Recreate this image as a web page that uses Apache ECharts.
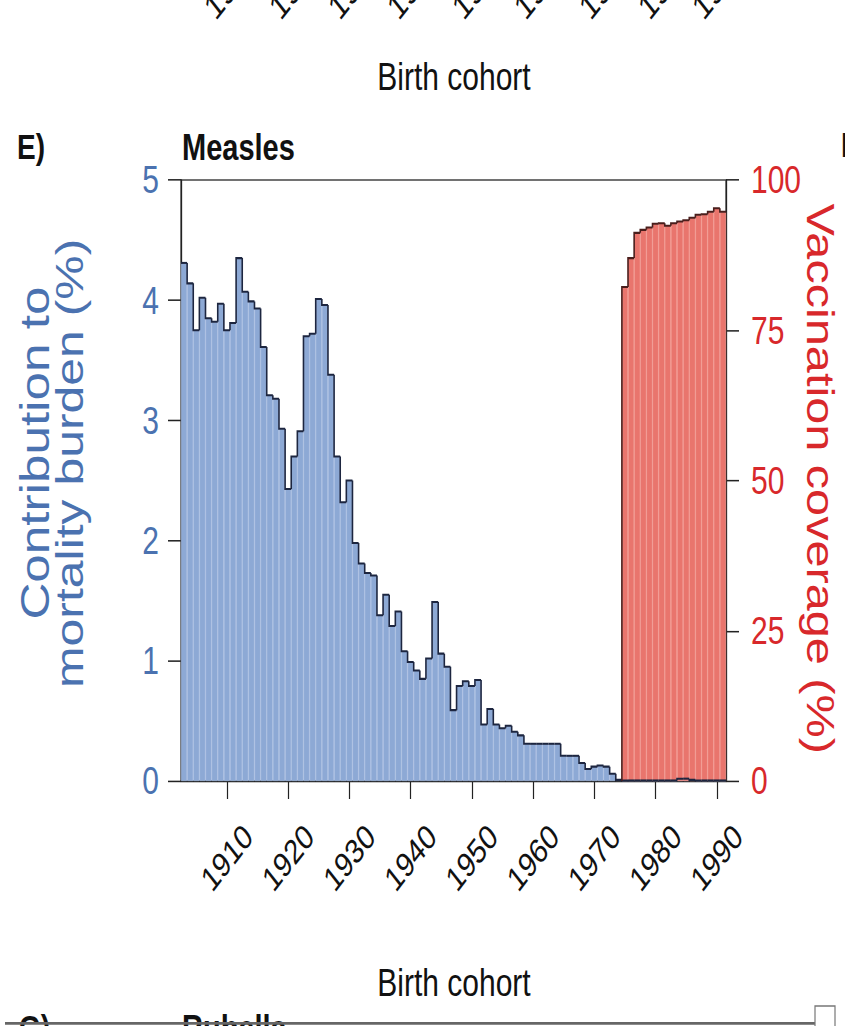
<!DOCTYPE html>
<html><head><meta charset="utf-8">
<script src="https://cdn.jsdelivr.net/npm/echarts@6/dist/echarts.min.js"></script>
<style>
html,body{margin:0;padding:0;background:#fff;overflow:hidden;width:845px;height:1026px;}
#wrap{width:845px;height:801.6px;transform:scaleY(1.28);transform-origin:0 0;}
#chart{width:845px;height:801.6px;}
</style></head><body><div id="wrap"><div id="chart"></div></div>
<script>
// ---- data ----
const years = ['1903','1904','1905','1906','1907','1908','1909','1910','1911','1912','1913','1914','1915','1916','1917','1918','1919','1920','1921','1922','1923','1924','1925','1926','1927','1928','1929','1930','1931','1932','1933','1934','1935','1936','1937','1938','1939','1940','1941','1942','1943','1944','1945','1946','1947','1948','1949','1950','1951','1952','1953','1954','1955','1956','1957','1958','1959','1960','1961','1962','1963','1964','1965','1966','1967','1968','1969','1970','1971','1972','1973','1974','1975','1976','1977','1978','1979','1980','1981','1982','1983','1984','1985','1986','1987','1988','1989','1990','1991'];
const mortality = [4.31,4.14,3.75,4.02,3.85,3.82,3.97,3.75,3.81,4.35,4.07,3.99,3.93,3.61,3.21,3.18,2.93,2.43,2.70,2.91,3.70,3.72,4.01,3.96,3.38,2.70,2.32,2.50,1.98,1.81,1.73,1.71,1.38,1.55,1.29,1.41,1.08,0.99,0.92,0.85,1.02,1.49,1.06,0.95,0.59,0.79,0.83,0.79,0.84,0.47,0.60,0.47,0.44,0.46,0.41,0.38,0.31,0.31,0.31,0.31,0.31,0.31,0.21,0.21,0.21,0.15,0.10,0.12,0.13,0.12,0.06,0.01,0.005,0.005,0.005,0.005,0.005,0.005,0.005,0.005,0.005,0.02,0.02,0.01,0.005,0.005,0.005,0.005,0.005];
const coverageYears = ['1975','1976','1977','1978','1979','1980','1981','1982','1983','1984','1985','1986','1987','1988','1989','1990','1991'];
const coverage = [82.2,87.0,91.2,91.7,92.1,92.7,92.8,92.4,92.8,93.1,93.3,93.7,94.2,94.3,94.7,95.3,94.7];
const xTickLabels = ['1910','1920','1930','1940','1950','1960','1970','1980','1990'];
const leftTicks = [0,1,2,3,4,5];
const rightTicks = [0,25,50,75,100];
const prevPanelLabels = ['1910','1920','1930','1940','1950','1960','1970','1980','1990'];
const prevPanelLabelX = [213,278,337,396,461,523,588,647,701];

// ---- styles ----
const FONT = '"Liberation Sans", Arial, Helvetica, sans-serif';
const BLUE_TXT = '#4B72B0', RED_TXT = '#D8282B';
const BLUE_FILL = '#8DA9D5', RED_FILL = '#E9756D';

const coverageFull = years.map(y => { const k = coverageYears.indexOf(y); return k >= 0 ? coverage[k] : null; });
const blueOutline = mortality.map((v, i) => [i, v, i > 0 ? mortality[i - 1] : v]);
const redOutline = [];
coverageFull.forEach((v, i) => { if (v != null) { const p = coverageFull[i - 1]; redOutline.push([i, v, p == null ? 0 : p]); } });

function outlineRender(color, width) {
  return function (params, api) {
    const x = api.value(0), y = api.value(1), yp = api.value(2);
    const p = api.coord([x, y]), pp = api.coord([x, yp]);
    const w = api.size([1, 0])[0];
    const l = p[0] - w / 2, r = p[0] + w / 2;
    return { type: 'polyline', shape: { points: [[l, pp[1]], [l, p[1]], [r, p[1]]] },
      style: { stroke: color, lineWidth: width, fill: null } };
  };
}
const isTick = (i, v) => xTickLabels.indexOf(String(v)) >= 0;

function txt(text, x, y, o) {
  o = o || {};
  return { type: 'text', x: x, y: y, rotation: o.rot || 0, z: 100,
    style: { text: text, fill: o.color || '#111', fontSize: o.size || 30, fontFamily: FONT,
      fontWeight: o.weight || 'normal', align: o.align || 'center', verticalAlign: o.va || 'middle',
      textAlign: o.align || 'center', textVerticalAlign: o.va || 'middle' } };
}

const graphics = [
  txt('Birth cohort', 454, 60),
  txt('E)', 17, 115, { weight: 'bold', size: 28, align: 'left' }),
  txt('Measles', 182, 115, { weight: 'bold', size: 29, align: 'left' }),
  txt('F)', 841, 113, { weight: 'bold', size: 28, align: 'left' }),
  txt('Contribution to', 35, 354, { rot: Math.PI / 2, size: 40, color: BLUE_TXT }),
  txt('mortality burden (%)', 69, 362, { rot: Math.PI / 2, size: 39, color: BLUE_TXT }),
  txt('Vaccination coverage (%)', 820, 374, { rot: -Math.PI / 2, size: 38, color: RED_TXT }),
  txt('Birth cohort', 454, 768),
  txt('G)', 19, 789, { weight: 'bold', size: 28, align: 'left', va: 'top' }),
  txt('Rubella', 182, 789, { weight: 'bold', size: 29, align: 'left', va: 'top' }),
  { type: 'line', z: 100, shape: { x1: 5, y1: 799.5, x2: 815, y2: 799.5 }, style: { stroke: '#666', lineWidth: 2 } },
  { type: 'rect', z: 100, shape: { x: 815, y: 786, width: 20, height: 18 }, style: { stroke: '#777', fill: '#fff', lineWidth: 1.2 } }
];
prevPanelLabels.forEach((t, i) => graphics.push(txt(t, prevPanelLabelX[i] + 40, -34, { rot: Math.PI / 4, size: 28, align: 'right' })));

const chart = echarts.init(document.getElementById('chart'), null, { renderer: 'svg' });
chart.setOption({
  animation: false,
  backgroundColor: '#fff',
  textStyle: { fontFamily: FONT },
  grid: { left: 181, right: 119, top: 140.6, height: 469.6, show: true, borderColor: '#444', borderWidth: 1.3, backgroundColor: 'transparent' },
  xAxis: {
    type: 'category', data: years, boundaryGap: true,
    axisLine: { show: true, lineStyle: { color: '#222', width: 1.3 } },
    axisTick: { show: true, alignWithLabel: true, interval: isTick, length: 14, lineStyle: { color: '#222', width: 1.2 } },
    axisLabel: { interval: isTick, rotate: 45, fontSize: 27, color: '#111', margin: 60,
      align: 'center', verticalAlign: 'middle', fontFamily: FONT },
    splitLine: { show: false }
  },
  yAxis: [
    { type: 'value', min: leftTicks[0], max: leftTicks[leftTicks.length - 1], interval: 1, position: 'left',
      axisLine: { show: true, lineStyle: { color: '#222', width: 1.3 } },
      axisTick: { show: true, length: 13, lineStyle: { color: '#222', width: 1.2 } },
      axisLabel: { color: BLUE_TXT, fontSize: 30, margin: 22, fontFamily: FONT },
      splitLine: { show: false } },
    { type: 'value', min: rightTicks[0], max: rightTicks[rightTicks.length - 1], interval: 25, position: 'right',
      axisLine: { show: true, lineStyle: { color: '#222', width: 1.3 } },
      axisTick: { show: true, length: 13, lineStyle: { color: '#222', width: 1.2 } },
      axisLabel: { color: RED_TXT, fontSize: 30, margin: 25, fontFamily: FONT },
      splitLine: { show: false } }
  ],
  series: [
    { name: 'Mortality', type: 'bar', yAxisIndex: 0, data: mortality, barCategoryGap: '0%', barGap: '-100%', z: 2,
      itemStyle: { color: BLUE_FILL, borderColor: '#A2B9DF', borderWidth: 0.6 } },
    { name: 'Coverage', type: 'bar', yAxisIndex: 1, data: coverageFull, barCategoryGap: '0%', barGap: '-100%', z: 3,
      itemStyle: { color: RED_FILL, borderColor: '#F08E86', borderWidth: 0.6 } },
    { type: 'custom', yAxisIndex: 0, z: 5, data: blueOutline, encode: { x: 0, y: 1 }, clip: false,
      renderItem: outlineRender('#1D2640', 1.6) },
    { type: 'custom', yAxisIndex: 1, z: 5, data: redOutline, encode: { x: 0, y: 1 }, clip: false,
      renderItem: outlineRender('#4A1E1C', 1.6) }
  ],
  graphic: graphics
});
</script></body></html>
